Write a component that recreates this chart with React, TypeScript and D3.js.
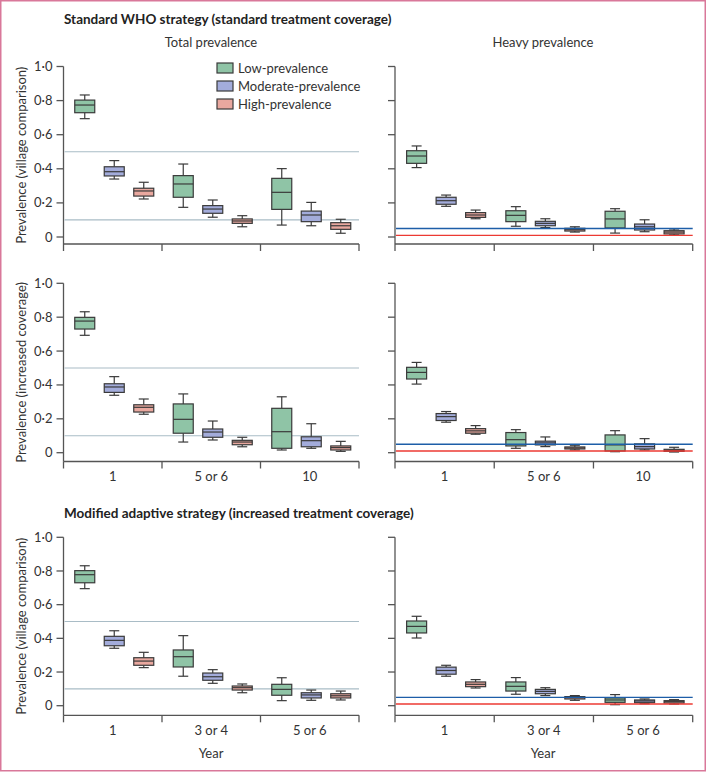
import React from "react";
import * as d3 from "d3";

// ---------- data ----------
const categories = ["Low-prevalence", "Moderate-prevalence", "High-prevalence"];
const yearsStandard = ["1", "5 or 6", "10"];
const yearsAdaptive = ["1", "3 or 4", "5 or 6"];
const yTicks = [0, 0.2, 0.4, 0.6, 0.8, 1.0];
const totalRefLines = [0.5, 0.1];
const heavyRefBlue = 0.05;
const heavyRefRed = 0.01;

// each box: [whiskerLow, q1, median, q3, whiskerHigh]; per year, per category
const whoTotal = [
  [[0.694, 0.729, 0.774, 0.803, 0.833], [0.34, 0.358, 0.383, 0.412, 0.448], [0.223, 0.24, 0.27, 0.286, 0.321]],
  [[0.174, 0.233, 0.311, 0.36, 0.428], [0.116, 0.139, 0.164, 0.184, 0.217], [0.06, 0.08, 0.094, 0.106, 0.125]],
  [[0.07, 0.162, 0.262, 0.344, 0.401], [0.066, 0.09, 0.129, 0.152, 0.203], [0.022, 0.045, 0.066, 0.084, 0.104]],
];
const whoHeavy = [
  [[0.407, 0.432, 0.475, 0.506, 0.534], [0.18, 0.192, 0.213, 0.233, 0.246], [0.107, 0.115, 0.129, 0.143, 0.158]],
  [[0.063, 0.09, 0.127, 0.154, 0.178], [0.055, 0.066, 0.08, 0.092, 0.107], [0.029, 0.035, 0.043, 0.051, 0.06]],
  [[0.023, 0.053, 0.106, 0.151, 0.166], [0.031, 0.041, 0.06, 0.076, 0.101], [0.012, 0.018, 0.029, 0.037, 0.047]],
];
const increasedTotal = [
  [[0.693, 0.73, 0.777, 0.799, 0.832], [0.339, 0.356, 0.388, 0.407, 0.449], [0.227, 0.24, 0.268, 0.283, 0.317]],
  [[0.063, 0.115, 0.197, 0.288, 0.347], [0.075, 0.091, 0.122, 0.14, 0.187], [0.035, 0.047, 0.063, 0.073, 0.091]],
  [[0.016, 0.026, 0.124, 0.262, 0.33], [0.026, 0.035, 0.071, 0.094, 0.171], [0.008, 0.016, 0.03, 0.04, 0.067]],
];
const increasedHeavy = [
  [[0.405, 0.435, 0.474, 0.504, 0.533], [0.18, 0.19, 0.213, 0.231, 0.243], [0.109, 0.115, 0.129, 0.142, 0.16]],
  [[0.026, 0.04, 0.077, 0.119, 0.136], [0.036, 0.046, 0.058, 0.068, 0.093], [0.016, 0.022, 0.028, 0.034, 0.044]],
  [[0.006, 0.01, 0.046, 0.105, 0.13], [0.016, 0.022, 0.036, 0.052, 0.083], [0.004, 0.008, 0.014, 0.02, 0.032]],
];
const adaptiveTotal = [
  [[0.695, 0.73, 0.778, 0.802, 0.831], [0.341, 0.356, 0.388, 0.412, 0.445], [0.226, 0.24, 0.265, 0.285, 0.317]],
  [[0.175, 0.23, 0.291, 0.331, 0.416], [0.133, 0.151, 0.172, 0.194, 0.214], [0.077, 0.093, 0.107, 0.117, 0.129]],
  [[0.03, 0.062, 0.097, 0.127, 0.166], [0.032, 0.046, 0.064, 0.077, 0.093], [0.034, 0.046, 0.059, 0.071, 0.087]],
];
const adaptiveHeavy = [
  [[0.402, 0.432, 0.471, 0.503, 0.531], [0.175, 0.187, 0.209, 0.229, 0.24], [0.105, 0.113, 0.127, 0.141, 0.155]],
  [[0.068, 0.087, 0.115, 0.141, 0.167], [0.06, 0.071, 0.085, 0.097, 0.107], [0.032, 0.04, 0.048, 0.054, 0.06]],
  [[0.006, 0.02, 0.034, 0.046, 0.066], [0.012, 0.018, 0.028, 0.034, 0.04], [0.01, 0.016, 0.024, 0.03, 0.036]],
];

// ---------- styles ----------
const FONT = "Lato, 'Open Sans', sans-serif";
const FS = 13;
const fills = ["#8fc4a6", "#a3acdb", "#e9a89f"];
const boxStroke = "#3a3a3a";
const axisColor = "#555";
const refGrey = "#a9bcc6";
const refBlue = "#1d5ea8";
const refRed = "#ec3a33";

type Panel = {
  x0: number; x1: number; yTop: number; yZero: number; axisY: number;
  data: number[][][]; years: string[]; heavy: boolean; showYLabels: boolean; showXLabels: boolean;
};

const leftX: [number, number] = [63.5, 359];
const rightX: [number, number] = [395, 692.7];
const rows = [
  { yTop: 66.5, yZero: 237, axisY: 244 },
  { yTop: 283.3, yZero: 452.7, axisY: 461.5 },
  { yTop: 537.3, yZero: 705.7, axisY: 715.3 },
];

function PanelView({ p }: { p: Panel }) {
  const y = d3.scaleLinear().domain([0, 1]).range([p.yZero, p.yTop]);
  const x = d3.scaleBand<string>().domain(p.years).range([p.x0, p.x1]);
  const off = d3.scalePoint<string>().domain(categories).range([-29.5, 29.5]);
  const boxW = 20;
  const capW = 10;
  const fmt = (v: number) => (v === 0 ? "0" : d3.format(".1f")(v).replace(".", "·"));
  const ticksX = [...p.years.map((yr) => x(yr) as number), p.x1];
  return (
    <g>
      {/* y axis */}
      <line x1={p.x0} x2={p.x0} y1={p.yTop} y2={p.axisY} stroke={axisColor} strokeWidth={1.3} />
      {yTicks.map((t) => (
        <g key={t}>
          <line x1={p.x0 - 7} x2={p.x0} y1={y(t)} y2={y(t)} stroke={axisColor} strokeWidth={1.3} />
          {p.showYLabels && (
            <text x={p.x0 - 11} y={y(t)} dy="0.35em" textAnchor="end" fontSize={FS} fill="#333" fontFamily={FONT}>
              {fmt(t)}
            </text>
          )}
        </g>
      ))}
      {/* x axis */}
      <line x1={p.x0} x2={p.x1} y1={p.axisY} y2={p.axisY} stroke={axisColor} strokeWidth={1.3} />
      {ticksX.map((tx, i) => (
        <line key={i} x1={tx} x2={tx} y1={p.axisY} y2={p.axisY + 7} stroke={axisColor} strokeWidth={1.3} />
      ))}
      {p.showXLabels &&
        p.years.map((yr) => (
          <text key={yr} x={(x(yr) as number) + x.bandwidth() / 2} y={p.axisY + 19.5} textAnchor="middle"
            fontSize={FS} fill="#333" fontFamily={FONT}>
            {yr}
          </text>
        ))}
      {/* reference lines */}
      {!p.heavy &&
        totalRefLines.map((r) => (
          <line key={r} x1={p.x0 + 1} x2={p.x1} y1={y(r)} y2={y(r)} stroke={refGrey} strokeWidth={1.2} />
        ))}
      {/* boxes */}
      {p.years.map((yr, yi) =>
        categories.map((c, ci) => {
          const [lo, q1, md, q3, hi] = p.data[yi][ci];
          const cx = (x(yr) as number) + x.bandwidth() / 2 + 1.5 + (off(c) as number);
          return (
            <g key={yr + c}>
              <line x1={cx} x2={cx} y1={y(hi)} y2={y(q3)} stroke={boxStroke} strokeWidth={1.2} />
              <line x1={cx} x2={cx} y1={y(q1)} y2={y(lo)} stroke={boxStroke} strokeWidth={1.2} />
              <line x1={cx - capW / 2} x2={cx + capW / 2} y1={y(hi)} y2={y(hi)} stroke={boxStroke} strokeWidth={1.2} />
              <line x1={cx - capW / 2} x2={cx + capW / 2} y1={y(lo)} y2={y(lo)} stroke={boxStroke} strokeWidth={1.2} />
              <rect x={cx - boxW / 2} y={y(q3)} width={boxW} height={Math.max(1, y(q1) - y(q3))}
                fill={fills[ci]} stroke={boxStroke} strokeWidth={1.2} />
              <line x1={cx - boxW / 2} x2={cx + boxW / 2} y1={y(md)} y2={y(md)} stroke={boxStroke} strokeWidth={1.2} />
            </g>
          );
        })
      )}
      {p.heavy && (
        <g>
          <line x1={p.x0 + 1} x2={p.x1} y1={y(heavyRefBlue)} y2={y(heavyRefBlue)} stroke={refBlue} strokeWidth={1.3} />
          <line x1={p.x0 + 1} x2={p.x1} y1={y(heavyRefRed)} y2={y(heavyRefRed)} stroke={refRed} strokeWidth={1.3} />
        </g>
      )}
    </g>
  );
}

export default function App() {
  const W = 707;
  const H = 772;
  const panels: Panel[] = [
    { x0: leftX[0], x1: leftX[1], ...rows[0], data: whoTotal, years: yearsStandard, heavy: false, showYLabels: true, showXLabels: false },
    { x0: rightX[0], x1: rightX[1], ...rows[0], data: whoHeavy, years: yearsStandard, heavy: true, showYLabels: false, showXLabels: false },
    { x0: leftX[0], x1: leftX[1], ...rows[1], data: increasedTotal, years: yearsStandard, heavy: false, showYLabels: true, showXLabels: true },
    { x0: rightX[0], x1: rightX[1], ...rows[1], data: increasedHeavy, years: yearsStandard, heavy: true, showYLabels: false, showXLabels: true },
    { x0: leftX[0], x1: leftX[1], ...rows[2], data: adaptiveTotal, years: yearsAdaptive, heavy: false, showYLabels: true, showXLabels: true },
    { x0: rightX[0], x1: rightX[1], ...rows[2], data: adaptiveHeavy, years: yearsAdaptive, heavy: true, showYLabels: false, showXLabels: true },
  ];
  const yLabels = ["Prevalence (village comparison)", "Prevalence (increased coverage)", "Prevalence (village comparison)"];
  return (
    <svg width={W} height={H} style={{ position: "absolute", left: 0, top: 0, background: "#fff" }} fontFamily={FONT}>
      <rect x={0.75} y={0.75} width={W - 2.5} height={H - 2} fill="#fff" stroke="#d9789a" strokeWidth={1.5} />
      <text x={64} y={24} fontSize={13.5} fontWeight="bold" fill="#222">
        Standard WHO strategy (standard treatment coverage)
      </text>
      <text x={211} y={47} fontSize={FS} textAnchor="middle" fill="#333">Total prevalence</text>
      <text x={543} y={47} fontSize={FS} textAnchor="middle" fill="#333">Heavy prevalence</text>
      <text x={64} y={518} fontSize={13.5} fontWeight="bold" fill="#222">
        Modified adaptive strategy (increased treatment coverage)
      </text>
      {rows.map((r, i) => (
        <text key={i} transform={`translate(21,${(r.yTop + r.axisY) / 2}) rotate(-90)`} textAnchor="middle"
          dy="0.35em" fontSize={FS} fill="#333">
          {yLabels[i]}
        </text>
      ))}
      {panels.map((p, i) => <PanelView key={i} p={p} />)}
      {/* legend */}
      {categories.map((c, i) => (
        <g key={c} transform={`translate(217,${63 + i * 18})`}>
          <rect x={0} y={0} width={16} height={10} fill={fills[i]} stroke={boxStroke} strokeWidth={1.2} />
          <text x={21} y={5} dy="0.35em" fontSize={FS} fill="#333">{c}</text>
        </g>
      ))}
      <text x={211} y={758} fontSize={FS} textAnchor="middle" fill="#333">Year</text>
      <text x={543} y={758} fontSize={FS} textAnchor="middle" fill="#333">Year</text>
    </svg>
  );
}
